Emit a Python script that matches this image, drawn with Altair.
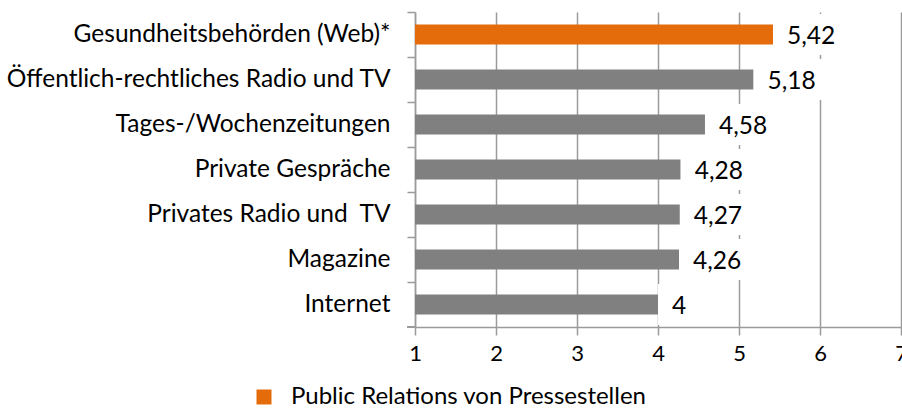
import altair as alt
import pandas as pd

categories = [
    "Gesundheitsbehörden (Web)*",
    "Öffentlich-rechtliches Radio und TV",
    "Tages-/Wochenzeitungen",
    "Private Gespräche",
    "Privates Radio und\u00a0 TV",
    "Magazine",
    "Internet",
]
values = [5.42, 5.18, 4.58, 4.28, 4.27, 4.26, 4.0]
labels = ["5,42", "5,18", "4,58", "4,28", "4,27", "4,26", "4"]
series = ["Public Relations von Pressestellen"] + ["Andere"] * 6
x_ticks = [1, 2, 3, 4, 5, 6, 7]

ORANGE = "#E46C0A"
GRAY = "#808080"
GRID = "#9b9b9b"
FONT = "Lato"

df = pd.DataFrame({"cat": categories, "value": values, "label": labels, "series": series})

y_enc = alt.Y(
    "cat:N",
    sort=categories,
    title=None,
    scale=alt.Scale(paddingInner=0, paddingOuter=0),
    axis=alt.Axis(
        bandPosition=0,
        tickSize=8,
        tickColor=GRID,
        tickWidth=1.5,
        domainColor=GRID,
        domainWidth=1.5,
        labelPadding=17,
        labelFontSize=24.5,
        labelFont=FONT,
        labelColor="#000000",
        labelLimit=0,
        grid=False,
    ),
)
x_scale = alt.Scale(domain=[1, 7], nice=False, zero=False)
x_enc = alt.X(
    "value:Q",
    scale=x_scale,
    stack=None,
    title=None,
    axis=alt.Axis(
        values=x_ticks,
        format="d",
        tickSize=8,
        tickColor=GRID,
        tickWidth=1.5,
        domainColor=GRID,
        domainWidth=1.5,
        grid=True,
        gridColor=GRID,
        gridWidth=1.5,
        labelPadding=8,
        labelFontSize=22,
        labelFont=FONT,
        labelColor="#000000",
        labelFlush=False,
        labelOverlap=False,
    ),
)

bars = alt.Chart(df).mark_bar(size=20).encode(
    y=y_enc,
    x=x_enc,
    x2=alt.value(0),
    color=alt.Color(
        "series:N",
        scale=alt.Scale(domain=["Public Relations von Pressestellen", "Andere"], range=[ORANGE, GRAY]),
        legend=alt.Legend(
            values=["Public Relations von Pressestellen"],
            title=None,
            orient="none",
            legendX=-163,
            legendY=373,
            symbolType="square",
            symbolSize=225,
            symbolStrokeWidth=0,
            labelFontSize=24,
            labelFont=FONT,
            labelColor="#000000",
            labelOffset=15,
            labelLimit=0,
        ),
    ),
)

boxes = alt.Chart(df).transform_calculate(
    box_end="datum.value + length(datum.label) * 0.155 + 0.35"
).mark_bar(size=41, color="white").encode(
    y=alt.Y("cat:N", sort=categories),
    x=alt.X("value:Q", scale=x_scale, stack=None),
    x2="box_end:Q",
)

text = alt.Chart(df).mark_text(
    align="left", baseline="middle", dx=14, dy=2, fontSize=24.5, font=FONT, color="#000000"
).encode(
    y=alt.Y("cat:N", sort=categories),
    x=alt.X("value:Q", scale=x_scale, stack=None),
    text="label:N",
)

corner = alt.Chart(df).mark_rule(color=GRID, strokeWidth=1.5).encode(
    x=alt.value(-8), x2=alt.value(0), y=alt.value(315)
)

chart = alt.layer(bars, boxes, text, corner).properties(
    width=486,
    height=315,
    autosize=alt.AutoSizeParams(type="none"),
    padding={"left": 415, "top": 12, "right": 1, "bottom": 83},
).configure_view(stroke=None)

chart.save("out.html", embed_options={"renderer": "svg", "actions": False})
